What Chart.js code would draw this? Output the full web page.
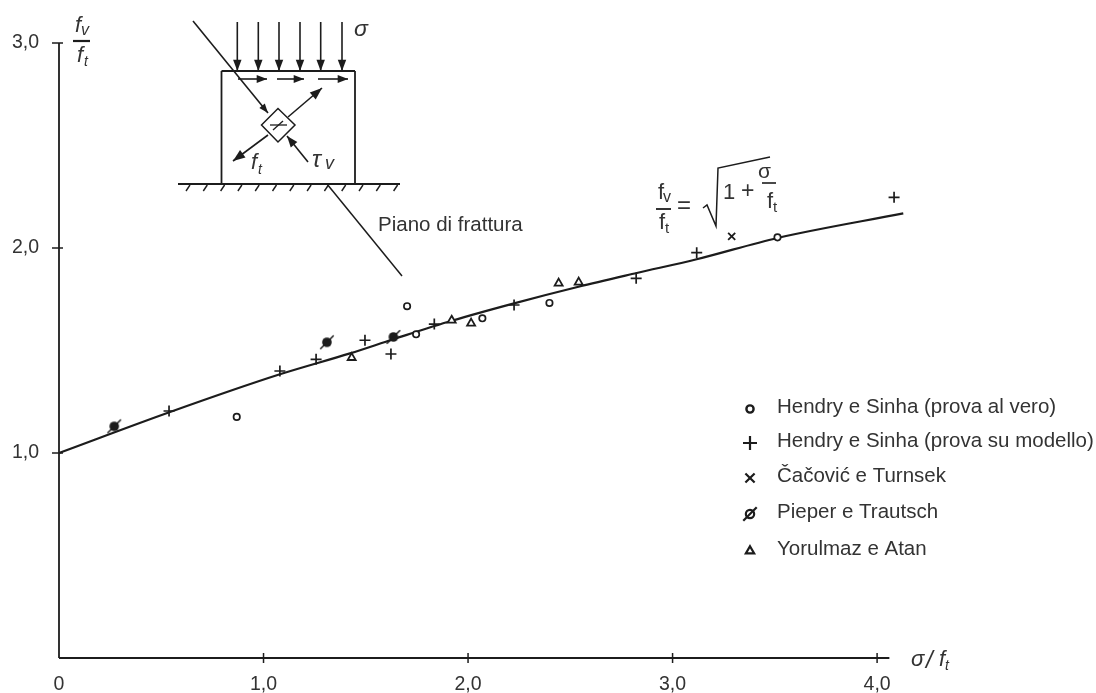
<!DOCTYPE html>
<html>
<head>
<meta charset="utf-8">
<title>Resistenza a taglio</title>
<script src="https://cdn.jsdelivr.net/npm/chart.js@4/dist/chart.umd.min.js"></script>
<style>
  html, body { margin: 0; padding: 0; background: #fff; }
  canvas { display: block; filter: blur(0.4px); }
</style>
</head>
<body>
<canvas id="chart" width="1096" height="693"></canvas>
<script>
// Values
const xTickLabels = ['0', '1,0', '2,0', '3,0', '4,0'];
const yTickLabels = ['', '1,0', '2,0', '3,0'];

const curveX = [0, 0.543, 1.08, 1.423, 1.635, 1.92, 2.225, 2.54, 2.825, 3.118, 3.513, 4.128];
const curveY = [1.0, 1.20, 1.384, 1.486, 1.555, 1.645, 1.73, 1.811, 1.878, 1.945, 2.049, 2.169];

const veroX = [0.869, 1.702, 1.746, 2.07, 2.398, 3.513];
const veroY = [1.176, 1.716, 1.579, 1.657, 1.732, 2.052];

const modelloX = [0.538, 1.08, 1.257, 1.496, 1.623, 1.835, 2.225, 2.822, 3.118, 4.083];
const modelloY = [1.205, 1.40, 1.457, 1.55, 1.483, 1.629, 1.722, 1.852, 1.977, 2.247];

const cacovicX = [3.289];
const cacovicY = [2.057];

const pieperX = [0.27, 1.31, 1.635];
const pieperY = [1.13, 1.54, 1.566];

const yorulmazX = [1.431, 1.92, 2.015, 2.443, 2.541];
const yorulmazY = [1.465, 1.647, 1.633, 1.828, 1.833];

const seriesNames = [
    'Hendry e Sinha (prova al vero)',
    'Hendry e Sinha (prova su modello)',
    'Čačović e Turnsek',
    'Pieper e Trautsch',
    'Yorulmaz e Atan'
];

const INK = '#1c1c1c';
const TEXT = '#333';
const SANS = '"Liberation Sans", Arial, sans-serif';

document.addEventListener('DOMContentLoaded', function() {
    const series = [
        { x: veroX, y: veroY, style: 'circle', radius: 3.2, width: 1.7, legendRadius: 3.6, legendWidth: 2.4 },
        { x: modelloX, y: modelloY, style: 'cross', radius: 5.5, width: 1.7, legendRadius: 7, legendWidth: 2.2 },
        { x: cacovicX, y: cacovicY, style: 'crossRot', radius: 5, width: 1.8, legendRadius: 6.5, legendWidth: 2.2 },
        { x: pieperX, y: pieperY, style: makePieperMarker(16, false), radius: 7, width: 0,
          legendStyle: makePieperMarker(16, true), legendRadius: 7, legendWidth: 0 },
        { x: yorulmazX, y: yorulmazY, style: 'triangle', radius: 4.6, width: 1.8, legendRadius: 4.8, legendWidth: 2.2 }
    ];

    const datasets = series.map((s, i) => ({
        type: 'scatter',
        label: seriesNames[i],
        data: s.x.map((v, j) => ({ x: v, y: s.y[j] })),
        pointStyle: s.style,
        pointRadius: s.radius,
        pointBorderWidth: s.width,
        pointBorderColor: INK,
        pointBackgroundColor: '#fff',
        clip: false
    }));

    datasets.push({
        type: 'line',
        label: 'curve',
        data: curveX.map((v, j) => ({ x: v, y: curveY[j] })),
        borderColor: INK,
        borderWidth: 2.2,
        pointRadius: 0,
        cubicInterpolationMode: 'monotone',
        fill: false,
        clip: false
    });

    new Chart(document.getElementById('chart').getContext('2d'), {
        data: { datasets: datasets },
        options: {
            responsive: false,
            animation: false,
            layout: { padding: { top: 43, right: 178, left: 0, bottom: 0 } },
            plugins: { legend: { display: false }, tooltip: { enabled: false } },
            scales: {
                x: {
                    type: 'linear',
                    min: 0,
                    max: 4.2,
                    grid: { display: false, drawTicks: false },
                    border: { display: false },
                    afterFit: scale => { scale.height = 35; },
                    ticks: {
                        stepSize: 1,
                        includeBounds: false,
                        maxRotation: 0,
                        padding: 15,
                        color: TEXT,
                        font: { family: SANS, size: 19.5 },
                        callback: (v, i) => xTickLabels[i]
                    }
                },
                y: {
                    type: 'linear',
                    min: 0,
                    max: 3,
                    grid: { display: false, drawTicks: false },
                    border: { display: false },
                    afterFit: scale => { scale.width = 59; },
                    ticks: {
                        stepSize: 1,
                        padding: 20,
                        color: TEXT,
                        font: { family: SANS, size: 19.5 },
                        callback: (v, i) => yTickLabels[i]
                    }
                }
            }
        },
        plugins: [{
            id: 'drawing',
            afterDraw: chart => {
                drawAxes(chart);
                drawInset(chart.ctx);
                drawFormula(chart.ctx);
                drawLegend(chart.ctx, series);
            }
        }]
    });
});

/**
 * Marker of the Pieper series: blob with a slash through it
 */
function makePieperMarker(size, hollow) {
    const c = document.createElement('canvas');
    c.width = size;
    c.height = size;
    const g = c.getContext('2d');
    const m = size / 2;
    g.fillStyle = INK;
    g.strokeStyle = INK;
    g.lineWidth = hollow ? 2.2 : 1.5;
    g.beginPath();
    g.arc(m, m, size * (hollow ? 0.26 : 0.3), 0, Math.PI * 2);
    if (hollow) {
        g.stroke();
    } else {
        g.fill();
    }
    g.beginPath();
    g.moveTo(size * 0.08, size * 0.92);
    g.lineTo(size * 0.92, size * 0.08);
    g.stroke();
    return c;
}

function line(ctx, x1, y1, x2, y2, width) {
    ctx.lineWidth = width || 1.6;
    ctx.strokeStyle = INK;
    ctx.beginPath();
    ctx.moveTo(x1, y1);
    ctx.lineTo(x2, y2);
    ctx.stroke();
}

function arrow(ctx, x1, y1, x2, y2, head) {
    const size = head || 11;
    const a = Math.atan2(y2 - y1, x2 - x1);
    line(ctx, x1, y1, x2, y2, 1.6);
    ctx.fillStyle = INK;
    ctx.beginPath();
    ctx.moveTo(x2, y2);
    ctx.lineTo(x2 - size * Math.cos(a - 0.36), y2 - size * Math.sin(a - 0.36));
    ctx.lineTo(x2 - size * Math.cos(a + 0.36), y2 - size * Math.sin(a + 0.36));
    ctx.closePath();
    ctx.fill();
}

function text(ctx, str, x, y, size, style) {
    ctx.font = (style ? style + ' ' : '') + size + 'px ' + SANS;
    ctx.fillStyle = TEXT;
    ctx.textAlign = 'left';
    ctx.textBaseline = 'middle';
    ctx.fillText(str, x, y);
}

/**
 * Axis lines and the tick marks that cross them
 */
function drawAxes(chart) {
    const ctx = chart.ctx;
    const xs = chart.scales.x;
    const ys = chart.scales.y;
    const x0 = xs.getPixelForValue(0);
    const y0 = ys.getPixelForValue(0);

    line(ctx, x0, y0, x0, ys.getPixelForValue(3), 1.8);
    line(ctx, x0, y0, xs.getPixelForValue(4.06), y0, 1.8);

    xs.ticks.forEach(t => {
        if (t.value > 0) {
            const px = xs.getPixelForValue(t.value);
            line(ctx, px, y0 - 5, px, y0 + 5, 1.5);
        }
    });
    ys.ticks.forEach(t => {
        if (t.value > 0) {
            const py = ys.getPixelForValue(t.value);
            line(ctx, x0 - 7, py, x0 + 4, py, 1.5);
        }
    });

    // Axis names
    text(ctx, 'f', 75, 26, 22, 'italic');
    text(ctx, 'v', 81, 31, 16, 'italic');
    line(ctx, 73, 41, 90, 41, 2.2);
    text(ctx, 'f', 77, 56, 22, 'italic');
    text(ctx, 't', 84, 62, 14, 'italic');

    text(ctx, 'σ', 911, 660, 22, 'italic');
    text(ctx, '/', 926, 661, 24, 'italic');
    text(ctx, 'f', 939, 660, 22, 'italic');
    text(ctx, 't', 945, 666, 14, 'italic');
}

/**
 * Small sketch of the wall panel in the upper left corner
 */
function drawInset(ctx) {
    // Load arrows
    [237.3, 258.3, 279, 300, 320.7, 342].forEach(x => arrow(ctx, x, 22, x, 71, 12));
    text(ctx, 'σ', 354, 30, 23, 'italic');

    // Panel and ground
    line(ctx, 221.5, 71, 355, 71, 1.8);
    line(ctx, 221.5, 71, 221.5, 184, 1.8);
    line(ctx, 355, 71, 355, 184, 1.8);
    line(ctx, 178, 184, 400, 184, 1.8);
    for (let x = 188; x < 400; x += 17.3) {
        line(ctx, x + 2, 185, x - 2, 191, 1.4);
    }

    // Shear arrows
    arrow(ctx, 238, 79, 267, 79);
    arrow(ctx, 277, 79, 304, 79);
    arrow(ctx, 318, 79, 348, 79);

    // Element with principal stresses
    ctx.strokeStyle = INK;
    ctx.lineWidth = 1.5;
    ctx.beginPath();
    ctx.moveTo(278, 108.5);
    ctx.lineTo(295, 125);
    ctx.lineTo(278, 142);
    ctx.lineTo(261.5, 125);
    ctx.closePath();
    ctx.stroke();
    line(ctx, 270, 125, 287, 125, 1.3);
    line(ctx, 273, 130, 283, 121, 1.3);

    arrow(ctx, 193, 21, 268, 113, 10);
    arrow(ctx, 288, 117, 322, 88, 13);
    arrow(ctx, 268, 135, 233, 161, 13);
    arrow(ctx, 308, 162, 287, 136, 12);
    line(ctx, 327, 184, 402, 276, 1.5);

    text(ctx, 'f', 251, 163, 22, 'italic');
    text(ctx, 't', 258, 170, 14, 'italic');
    text(ctx, 'τ', 312, 160, 24, 'italic');
    text(ctx, 'v', 325, 164, 18, 'italic');
    text(ctx, 'Piano di frattura', 378, 225, 20.5);
}

/**
 * Formula written above the curve
 */
function drawFormula(ctx) {
    text(ctx, 'f', 658, 193, 22);
    text(ctx, 'v', 663, 198, 16);
    line(ctx, 656, 209, 671, 209, 1.8);
    text(ctx, 'f', 659, 223, 22);
    text(ctx, 't', 665, 229, 15);
    text(ctx, '=', 677, 206, 24);

    ctx.strokeStyle = INK;
    ctx.lineWidth = 1.5;
    ctx.beginPath();
    ctx.moveTo(703, 208);
    ctx.lineTo(707, 205);
    ctx.lineTo(716, 226);
    ctx.lineTo(718, 168);
    ctx.lineTo(770, 157);
    ctx.stroke();

    text(ctx, '1', 723, 193, 22);
    text(ctx, '+', 741, 192, 23);
    text(ctx, 'σ', 758, 172, 21);
    line(ctx, 762, 183, 776, 183, 1.6);
    text(ctx, 'f', 767, 202, 22);
    text(ctx, 't', 773, 208, 15);
}

/**
 * Legend in the lower right, one row per series
 */
function drawLegend(ctx, series) {
    const rows = [407, 441, 476, 512, 549];
    series.forEach((s, i) => {
        ctx.save();
        ctx.fillStyle = '#fff';
        ctx.strokeStyle = INK;
        ctx.lineWidth = s.legendWidth;
        Chart.helpers.drawPoint(ctx, {
            pointStyle: s.legendStyle || s.style,
            radius: s.legendRadius,
            rotation: 0,
            borderWidth: s.legendWidth
        }, 750, rows[i] + 2);
        ctx.restore();
        text(ctx, seriesNames[i], 777, rows[i], 20.5);
    });
}
</script>
</body>
</html>
